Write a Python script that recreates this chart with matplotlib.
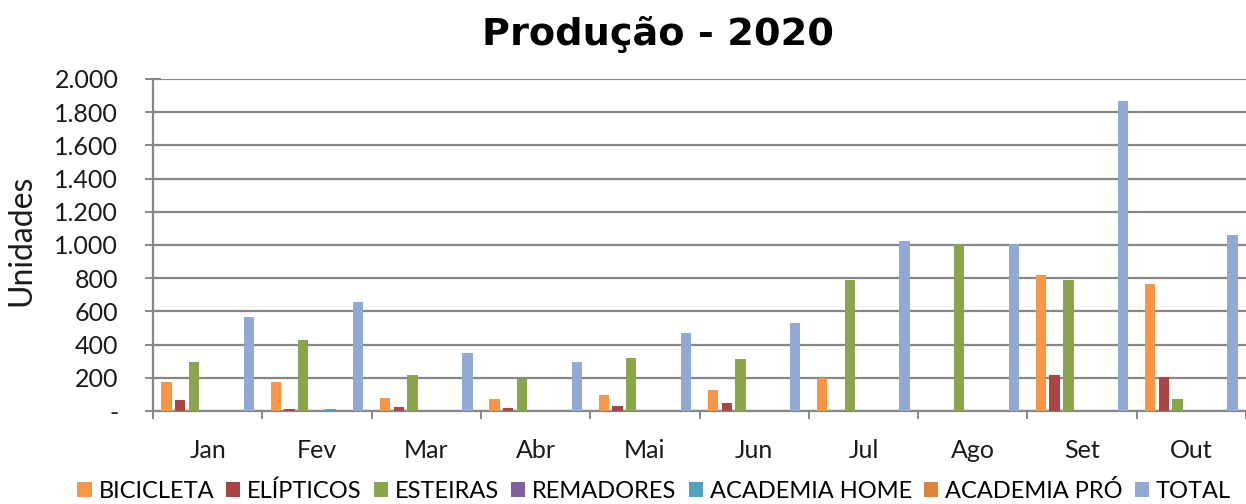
import numpy as np
import matplotlib.pyplot as plt
from matplotlib.patches import Patch

meses = ["Jan", "Fev", "Mar", "Abr", "Mai", "Jun", "Jul", "Ago", "Set", "Out"]

bicicleta = [175, 175, 80, 72, 96, 128, 198, 0, 818, 764]
elipticos = [65, 10, 24, 16, 33, 50, 0, 0, 218, 203]
esteiras = [296, 426, 219, 195, 319, 311, 788, 1008, 788, 70]
remadores = [0, 0, 0, 0, 0, 0, 0, 0, 0, 0]
academia_home = [0, 10, 0, 0, 0, 0, 0, 0, 0, 0]
academia_pro = [0, 0, 0, 0, 0, 0, 0, 0, 0, 0]
total = [568, 654, 349, 294, 467, 528, 1022, 1008, 1868, 1060]

series = [
    ("BICICLETA", bicicleta, "#F79646"),
    ("ELÍPTICOS", elipticos, "#AB4543"),
    ("ESTEIRAS", esteiras, "#8AA64C"),
    ("REMADORES", remadores, "#7E60A0"),
    ("ACADEMIA HOME", academia_home, "#4BA3BD"),
    ("ACADEMIA PRÓ", academia_pro, "#E0833A"),
    ("TOTAL", total, "#91A9D4"),
]

plt.rcParams["font.family"] = ["Lato", "DejaVu Sans"]

fig = plt.figure(figsize=(12.46, 5.04), dpi=100)
ax = fig.add_axes([153 / 1246, 93 / 504, 1093 / 1246, 332 / 504])

x = np.arange(len(meses))
slot = 0.1255
w = 0.095
for k, (nome, vals, cor) in enumerate(series):
    ax.bar(x + (k - 3) * slot, vals, w, color=cor, zorder=3)

ax.set_ylim(0, 2000)
ax.set_xlim(-0.5, -0.5 + 1093 / 110)
ax.set_yticks(range(0, 2001, 200))
ax.set_yticklabels(["-"] + [f"{v:,}".replace(",", ".") for v in range(200, 2001, 200)])
ax.set_xticks(x)
ax.set_xticklabels(meses)
ax.set_xticks(np.arange(-0.5, len(meses), 1), minor=True)

grid_c = "#878787"
ax.grid(axis="y", color=grid_c, lw=1.6, zorder=0)
for s in ["top", "right"]:
    ax.spines[s].set_visible(False)
for s in ["left", "bottom"]:
    ax.spines[s].set_color(grid_c)
    ax.spines[s].set_linewidth(1.6)

txt_c = "#1a1a1a"
ax.tick_params(axis="y", direction="inout", length=12, width=1.4, color=grid_c,
               labelsize=18, pad=19, labelcolor=txt_c)
ax.tick_params(axis="x", which="major", length=0, labelsize=18, pad=20,
               labelcolor=txt_c)
ax.tick_params(axis="x", which="minor", direction="out", length=6, width=1.4,
               color=grid_c)

ax.set_ylabel("Unidades", fontsize=23, color=txt_c)
ax.yaxis.set_label_coords(-0.107, 0.515)

fig.text(0.528, 0.932, "Produção - 2020", ha="center", va="center",
         fontsize=27.5, fontweight="bold", family=["DejaVu Sans"])

handles = [Patch(facecolor=c, label=n) for n, _, c in series]
fig.legend(handles=handles, loc="center", bbox_to_anchor=(0.525, 0.026), ncol=7,
           frameon=False, fontsize=17, handlelength=0.6, handleheight=0.6,
           handletextpad=0.3, columnspacing=0.5, borderaxespad=0)

fig.savefig("out.png", dpi=100)
